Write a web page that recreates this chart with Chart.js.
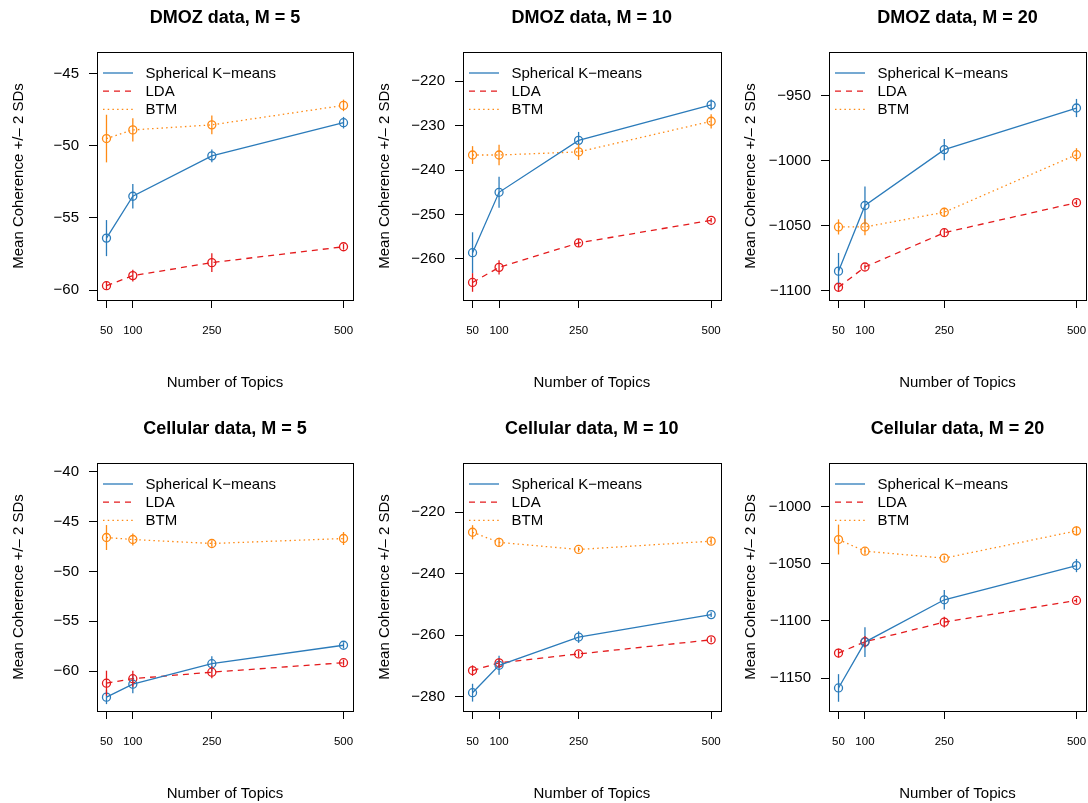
<!DOCTYPE html>
<html>
<head>
<meta charset="utf-8">
<script src="https://cdn.jsdelivr.net/npm/chart.js@4.4.1/dist/chart.umd.min.js"></script>
<style>
  html, body { margin: 0; padding: 0; background: #fff; overflow: hidden; width: 1088px; height: 803px; }
  canvas { position: absolute; }
</style>
</head>
<body>
<canvas id="c0"></canvas>
<canvas id="c1"></canvas>
<canvas id="c2"></canvas>
<canvas id="c3"></canvas>
<canvas id="c4"></canvas>
<canvas id="c5"></canvas>
<script>
// ---------------- DATA ----------------
const topics = [50, 100, 250, 500];
const xTicks = [50, 100, 250, 500];
const seriesNames = ['Spherical K\u2212means', 'LDA', 'BTM'];

// DMOZ data, M = 5  (mean, and half-width = 2 SD)
const dmoz5Kmeans = [-56.4, -53.5, -50.7, -48.4];
const dmoz5KmeansErr = [1.25, 0.85, 0.45, 0.4];
const dmoz5Lda = [-59.7, -59.0, -58.1, -57.0];
const dmoz5LdaErr = [0.3, 0.4, 0.65, 0.2];
const dmoz5Btm = [-49.5, -48.9, -48.55, -47.2];
const dmoz5BtmErr = [1.65, 0.8, 0.65, 0.4];
const dmoz5YTicks = [-60, -55, -50, -45];

// DMOZ data, M = 10
const dmoz10Kmeans = [-258.6, -245.0, -233.3, -225.3];
const dmoz10KmeansErr = [4.6, 3.5, 1.9, 1.2];
const dmoz10Lda = [-265.3, -261.9, -256.4, -251.3];
const dmoz10LdaErr = [2.1, 1.6, 0.9, 0.5];
const dmoz10Btm = [-236.6, -236.6, -235.9, -229.0];
const dmoz10BtmErr = [2.0, 2.3, 1.8, 1.6];
const dmoz10YTicks = [-260, -250, -240, -230, -220];

// DMOZ data, M = 20
const dmoz20Kmeans = [-1085, -1034.5, -991.5, -959.5];
const dmoz20KmeansErr = [14, 14.7, 8.2, 7];
const dmoz20Lda = [-1097.4, -1081.8, -1055.4, -1032.3];
const dmoz20LdaErr = [3.2, 2, 3, 2];
const dmoz20Btm = [-1051, -1051, -1039.7, -995.4];
const dmoz20BtmErr = [5.8, 6.3, 3.5, 5];
const dmoz20YTicks = [-1100, -1050, -1000, -950];

// Cellular data, M = 5
const cell5Kmeans = [-62.6, -61.3, -59.25, -57.4];
const cell5KmeansErr = [0.7, 0.9, 0.75, 0.3];
const cell5Lda = [-61.2, -60.75, -60.1, -59.15];
const cell5LdaErr = [1.25, 0.8, 0.6, 0.3];
const cell5Btm = [-46.6, -46.8, -47.2, -46.7];
const cell5BtmErr = [1.25, 0.6, 0.3, 0.65];
const cell5YTicks = [-60, -55, -50, -45, -40];

// Cellular data, M = 10
const cell10Kmeans = [-278.7, -269.8, -260.6, -253.3];
const cell10KmeansErr = [2.9, 3.1, 1.9, 0.8];
const cell10Lda = [-271.5, -269.0, -266.1, -261.5];
const cell10LdaErr = [1.7, 1.6, 1.0, 0.8];
const cell10Btm = [-226.5, -229.8, -232.1, -229.4];
const cell10BtmErr = [2.3, 1.5, 0.8, 1.0];
const cell10YTicks = [-280, -260, -240, -220];

// Cellular data, M = 20
const cell20Kmeans = [-1158.7, -1118.5, -1081.4, -1051.4];
const cell20KmeansErr = [12.1, 13.1, 8.5, 5.8];
const cell20Lda = [-1128.1, -1118.2, -1101, -1082];
const cell20LdaErr = [3.9, 5, 4.8, 2];
const cell20Btm = [-1028.6, -1038.8, -1044.9, -1021];
const cell20BtmErr = [13.1, 2.9, 2, 4];
const cell20YTicks = [-1150, -1100, -1050, -1000];

// ---------------- PANELS ----------------
const panels = [
  { title: 'DMOZ data, M = 5',      km: dmoz5Kmeans,  kmE: dmoz5KmeansErr,  lda: dmoz5Lda,  ldaE: dmoz5LdaErr,  btm: dmoz5Btm,  btmE: dmoz5BtmErr,  yt: dmoz5YTicks,  ymin: -60.69,  ymax: -43.5 },
  { title: 'DMOZ data, M = 10',     km: dmoz10Kmeans, kmE: dmoz10KmeansErr, lda: dmoz10Lda, ldaE: dmoz10LdaErr, btm: dmoz10Btm, btmE: dmoz10BtmErr, yt: dmoz10YTicks, ymin: -269.25, ymax: -213.4 },
  { title: 'DMOZ data, M = 20',     km: dmoz20Kmeans, kmE: dmoz20KmeansErr, lda: dmoz20Lda, ldaE: dmoz20LdaErr, btm: dmoz20Btm, btmE: dmoz20BtmErr, yt: dmoz20YTicks, ymin: -1107.2, ymax: -916.4 },
  { title: 'Cellular data, M = 5',  km: cell5Kmeans,  kmE: cell5KmeansErr,  lda: cell5Lda,  ldaE: cell5LdaErr,  btm: cell5Btm,  btmE: cell5BtmErr,  yt: cell5YTicks,  ymin: -63.99,  ymax: -39.13 },
  { title: 'Cellular data, M = 10', km: cell10Kmeans, kmE: cell10KmeansErr, lda: cell10Lda, ldaE: cell10LdaErr, btm: cell10Btm, btmE: cell10BtmErr, yt: cell10YTicks, ymin: -284.66, ymax: -203.97 },
  { title: 'Cellular data, M = 20', km: cell20Kmeans, kmE: cell20KmeansErr, lda: cell20Lda, ldaE: cell20LdaErr, btm: cell20Btm, btmE: cell20BtmErr, yt: cell20YTicks, ymin: -1178.9, ymax: -961.5 }
];

// ---------------- STYLE / LAYOUT ----------------
const FONT = "'Liberation Sans', Arial, Helvetica, sans-serif";
Chart.defaults.font.family = FONT;
Chart.defaults.color = '#000';
const COLORS = ['#2B7BBA', '#E41A1C', '#FF8A14'];
const DASHES = [[], [6, 5], [1.5, 3.2]];
const LW = 1.3;
const colLeft = [0, 366, 732];
const boxW = [256, 258, 257];
const rowTop = [0, 411];
const CW = 360, CH = 392, AXW = 97, XAXH = 92;

function fmt(v) { return v < 0 ? '\u2212' + Math.abs(v) : String(v); }

const errorBarPlugin = {
  id: 'errorBars',
  afterDatasetsDraw(chart) {
    const ctx = chart.ctx, xs = chart.scales.x, ys = chart.scales.y;
    chart.data.datasets.forEach(ds => {
      ctx.save();
      ctx.strokeStyle = ds.borderColor;
      ctx.lineWidth = LW;
      ctx.setLineDash([]);
      ds.data.forEach((pt, i) => {
        const e = ds.errors[i];
        const x = xs.getPixelForValue(pt.x);
        ctx.beginPath();
        ctx.moveTo(x, ys.getPixelForValue(pt.y - e));
        ctx.lineTo(x, ys.getPixelForValue(pt.y + e));
        ctx.stroke();
      });
      ctx.restore();
    });
  }
};

const boxLegendPlugin = {
  id: 'boxLegend',
  afterDraw(chart) {
    const ctx = chart.ctx, a = chart.chartArea;
    ctx.save();
    ctx.strokeStyle = '#000';
    ctx.lineWidth = 1;
    ctx.setLineDash([]);
    ctx.strokeRect(Math.round(a.left) + 0.5, Math.round(a.top) + 0.5, Math.round(a.right - a.left), Math.round(a.bottom - a.top));
    ctx.font = '15px ' + FONT;
    ctx.textBaseline = 'middle';
    ctx.textAlign = 'left';
    chart.data.datasets.forEach((ds, i) => {
      const y = a.top + 21 + 18.2 * i;
      ctx.strokeStyle = ds.borderColor;
      ctx.lineWidth = LW;
      ctx.setLineDash(ds.borderDash);
      ctx.beginPath();
      ctx.moveTo(a.left + 6, y);
      ctx.lineTo(a.left + 36, y);
      ctx.stroke();
      ctx.fillStyle = '#000';
      ctx.fillText(ds.label, a.left + 48.5, y + 0.5);
    });
    ctx.restore();
  }
};

panels.forEach((p, idx) => {
  const col = idx % 3, row = Math.floor(idx / 3);
  const cv = document.getElementById('c' + idx);
  cv.width = CW; cv.height = CH;
  cv.style.left = colLeft[col] + 'px';
  cv.style.top = rowTop[row] + 'px';
  cv.style.width = CW + 'px'; cv.style.height = CH + 'px';

  const vals = [p.km, p.lda, p.btm];
  const errs = [p.kmE, p.ldaE, p.btmE];
  const datasets = vals.map((v, s) => ({
    label: seriesNames[s],
    data: topics.map((t, i) => ({ x: t, y: v[i] })),
    errors: errs[s],
    borderColor: COLORS[s],
    backgroundColor: 'rgba(0,0,0,0)',
    borderWidth: LW,
    borderDash: DASHES[s],
    pointRadius: 4,
    pointBorderWidth: LW,
    pointBorderColor: COLORS[s],
    pointBackgroundColor: 'rgba(0,0,0,0)',
    tension: 0,
    fill: false
  }));

  new Chart(cv, {
    type: 'line',
    data: { datasets },
    plugins: [errorBarPlugin, boxLegendPlugin],
    options: {
      responsive: false,
      animation: false,
      devicePixelRatio: 1,
      layout: { padding: { left: 0, top: 0, bottom: 0, right: CW - AXW - boxW[col] } },
      plugins: {
        legend: { display: false },
        tooltip: { enabled: false },
        title: {
          display: true,
          text: p.title,
          fullSize: false,
          font: { size: 18, weight: 'bold', family: FONT },
          color: '#000',
          padding: { top: 7, bottom: 23.4 }
        }
      },
      scales: {
        x: {
          type: 'linear',
          min: 32, max: 518,
          afterBuildTicks: s => { s.ticks = xTicks.map(v => ({ value: v })); },
          afterFit: s => { s.height = XAXH; s.paddingLeft = 0; s.paddingRight = 0; },
          border: { display: false },
          grid: { drawOnChartArea: false, drawTicks: true, tickLength: 8, color: '#000', lineWidth: 1 },
          ticks: { font: { size: 11.5, family: FONT }, color: '#000', padding: 16, maxRotation: 0, autoSkip: false, callback: v => String(v) },
          title: { display: true, text: 'Number of Topics', font: { size: 15, family: FONT }, color: '#000', padding: { top: 0, bottom: 0.3 } }
        },
        y: {
          type: 'linear',
          min: p.ymin, max: p.ymax,
          afterBuildTicks: s => { s.ticks = p.yt.map(v => ({ value: v })); },
          afterFit: s => { s.width = AXW; s.paddingTop = 0; s.paddingBottom = 0; },
          border: { display: false },
          grid: { drawOnChartArea: false, drawTicks: true, tickLength: 8, color: '#000', lineWidth: 1 },
          ticks: { font: { size: 15, family: FONT }, color: '#000', padding: 10, autoSkip: false, callback: v => fmt(v) },
          title: { display: true, text: 'Mean Coherence +/\u2013 2 SDs', font: { size: 15, family: FONT }, color: '#000', padding: { top: 9.5, bottom: 0 } }
        }
      }
    }
  });
});
</script>
</body>
</html>
